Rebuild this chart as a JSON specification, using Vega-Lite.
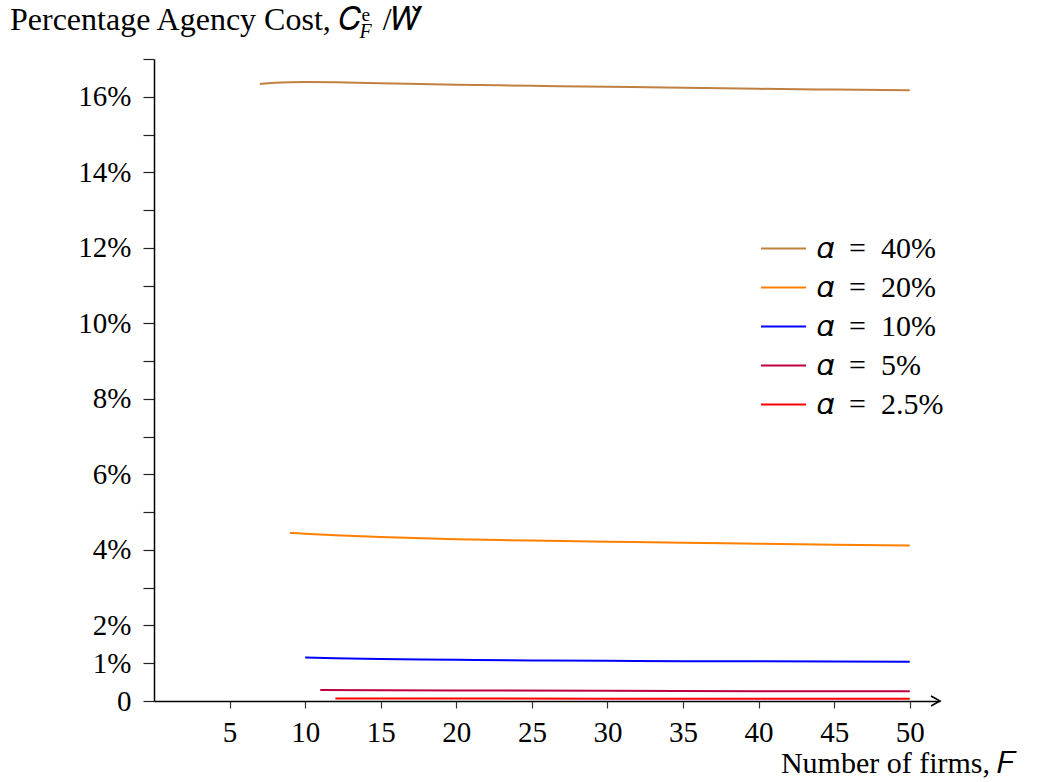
{
  "$schema": "https://vega.github.io/schema/vega-lite/v6.json",
  "width": 786,
  "height": 642,
  "autosize": "none",
  "padding": {"left": 154, "top": 59, "right": 109, "bottom": 81},
  "background": "white",
  "config": {
    "view": {"stroke": null},
    "font": "Liberation Serif",
    "axis": {"labelFont": "Liberation Serif", "titleFont": "Liberation Serif"}
  },
  "title": {
    "text": "Percentage Agency Cost, 𝐶ᵉ\u2009\u2009/𝑊̌",
    "anchor": "start",
    "frame": "group",
    "orient": "top",
    "offset": 0,
    "dx": -144,
    "dy": 41,
    "baseline": "alphabetic",
    "fontSize": 32,
    "fontWeight": "normal",
    "font": "Liberation Serif",
    "color": "black"
  },
  "data": {
    "values": [
      {"F": 7, "pct": 16.34, "series": "𝛼\u2002=\u200240%"},
      {"F": 8, "pct": 16.37, "series": "𝛼\u2002=\u200240%"},
      {"F": 9, "pct": 16.385, "series": "𝛼\u2002=\u200240%"},
      {"F": 10, "pct": 16.39, "series": "𝛼\u2002=\u200240%"},
      {"F": 12, "pct": 16.385, "series": "𝛼\u2002=\u200240%"},
      {"F": 15, "pct": 16.36, "series": "𝛼\u2002=\u200240%"},
      {"F": 20, "pct": 16.32, "series": "𝛼\u2002=\u200240%"},
      {"F": 25, "pct": 16.29, "series": "𝛼\u2002=\u200240%"},
      {"F": 30, "pct": 16.265, "series": "𝛼\u2002=\u200240%"},
      {"F": 35, "pct": 16.24, "series": "𝛼\u2002=\u200240%"},
      {"F": 40, "pct": 16.21, "series": "𝛼\u2002=\u200240%"},
      {"F": 45, "pct": 16.19, "series": "𝛼\u2002=\u200240%"},
      {"F": 50, "pct": 16.17, "series": "𝛼\u2002=\u200240%"},
      {"F": 9, "pct": 4.45, "series": "𝛼\u2002=\u200220%"},
      {"F": 10, "pct": 4.43, "series": "𝛼\u2002=\u200220%"},
      {"F": 12, "pct": 4.39, "series": "𝛼\u2002=\u200220%"},
      {"F": 15, "pct": 4.34, "series": "𝛼\u2002=\u200220%"},
      {"F": 20, "pct": 4.28, "series": "𝛼\u2002=\u200220%"},
      {"F": 25, "pct": 4.25, "series": "𝛼\u2002=\u200220%"},
      {"F": 30, "pct": 4.22, "series": "𝛼\u2002=\u200220%"},
      {"F": 35, "pct": 4.19, "series": "𝛼\u2002=\u200220%"},
      {"F": 40, "pct": 4.165, "series": "𝛼\u2002=\u200220%"},
      {"F": 45, "pct": 4.14, "series": "𝛼\u2002=\u200220%"},
      {"F": 50, "pct": 4.12, "series": "𝛼\u2002=\u200220%"},
      {"F": 10, "pct": 1.15, "series": "𝛼\u2002=\u200210%"},
      {"F": 12, "pct": 1.13, "series": "𝛼\u2002=\u200210%"},
      {"F": 15, "pct": 1.11, "series": "𝛼\u2002=\u200210%"},
      {"F": 20, "pct": 1.09, "series": "𝛼\u2002=\u200210%"},
      {"F": 25, "pct": 1.075, "series": "𝛼\u2002=\u200210%"},
      {"F": 30, "pct": 1.065, "series": "𝛼\u2002=\u200210%"},
      {"F": 35, "pct": 1.055, "series": "𝛼\u2002=\u200210%"},
      {"F": 40, "pct": 1.05, "series": "𝛼\u2002=\u200210%"},
      {"F": 45, "pct": 1.045, "series": "𝛼\u2002=\u200210%"},
      {"F": 50, "pct": 1.04, "series": "𝛼\u2002=\u200210%"},
      {"F": 11, "pct": 0.29, "series": "𝛼\u2002=\u20025%"},
      {"F": 15, "pct": 0.285, "series": "𝛼\u2002=\u20025%"},
      {"F": 20, "pct": 0.28, "series": "𝛼\u2002=\u20025%"},
      {"F": 30, "pct": 0.27, "series": "𝛼\u2002=\u20025%"},
      {"F": 40, "pct": 0.26, "series": "𝛼\u2002=\u20025%"},
      {"F": 50, "pct": 0.255, "series": "𝛼\u2002=\u20025%"},
      {"F": 12, "pct": 0.066, "series": "𝛼\u2002=\u20022.5%"},
      {"F": 20, "pct": 0.064, "series": "𝛼\u2002=\u20022.5%"},
      {"F": 30, "pct": 0.062, "series": "𝛼\u2002=\u20022.5%"},
      {"F": 40, "pct": 0.06, "series": "𝛼\u2002=\u20022.5%"},
      {"F": 50, "pct": 0.058, "series": "𝛼\u2002=\u20022.5%"}
    ]
  },
  "encoding": {
    "x": {
      "field": "F",
      "type": "quantitative",
      "scale": {"domain": [0, 52], "nice": false, "zero": false},
      "axis": {
        "values": [5, 10, 15, 20, 25, 30, 35, 40, 45, 50],
        "grid": false,
        "domainColor": "black",
        "domainWidth": 1.5,
        "tickColor": "#333333",
        "tickWidth": 1.2,
        "tickSize": 7,
        "labelFontSize": 29,
        "labelColor": "black",
        "labelPadding": 10,
        "title": "Number of firms, 𝐹",
        "titleFontSize": 30,
        "titleFontWeight": "normal",
        "titleColor": "black",
        "titleAnchor": null,
        "titleAlign": "right",
        "titleBaseline": "alphabetic",
        "titleX": 861,
        "titleY": 71
      }
    },
    "y": {
      "field": "pct",
      "type": "quantitative",
      "scale": {"domain": [0, 17], "nice": false},
      "axis": {
        "values": [0, 1, 2, 3, 4, 5, 6, 7, 8, 9, 10, 11, 12, 13, 14, 15, 16, 17],
        "labelExpr": "datum.value == 0 ? '0' : (datum.value == 1 || datum.value % 2 == 0) ? datum.value + '%' : ''",
        "grid": false,
        "domainColor": "black",
        "domainWidth": 1.5,
        "tickColor": "#222222",
        "tickWidth": 1.2,
        "tickSize": 11,
        "labelFontSize": 29,
        "labelColor": "black",
        "labelPadding": 12,
        "labelBaseline": "middle",
        "title": "F",
        "titleFontSize": 20,
        "titleFontStyle": "italic",
        "titleFontWeight": "normal",
        "titleColor": "black",
        "titleAngle": 0,
        "titleAnchor": null,
        "titleAlign": "left",
        "titleBaseline": "alphabetic",
        "titleX": 205,
        "titleY": -22
      }
    }
  },
  "layer": [
    {
      "mark": {"type": "line", "strokeWidth": 2, "interpolate": "monotone"},
      "encoding": {
        "color": {
          "field": "series",
          "type": "nominal",
          "scale": {
            "domain": ["𝛼\u2002=\u200240%", "𝛼\u2002=\u200220%", "𝛼\u2002=\u200210%", "𝛼\u2002=\u20025%", "𝛼\u2002=\u20022.5%"],
            "range": ["#BF8040", "#FF8000", "#0000FF", "#BF0040", "#FF0000"]
          },
          "legend": {
            "orient": "none",
            "legendX": 606,
            "legendY": 166,
            "title": null,
            "symbolType": "stroke",
            "symbolSize": 2025,
            "symbolStrokeWidth": 2,
            "labelFontSize": 30,
            "labelFont": "Liberation Serif",
            "labelColor": "black",
            "labelOffset": 10,
            "rowPadding": -1,
            "labelLimit": 300
          }
        }
      }
    },
    {
      "data": {"values": [{"F": 52, "pct": 0}]},
      "mark": {
        "type": "point",
        "shape": "M-1.8,-1L0,0L-1.8,1",
        "filled": false,
        "stroke": "black",
        "strokeWidth": 1.5,
        "size": 100,
        "opacity": 1
      },
      "encoding": {}
    }
  ]
}
